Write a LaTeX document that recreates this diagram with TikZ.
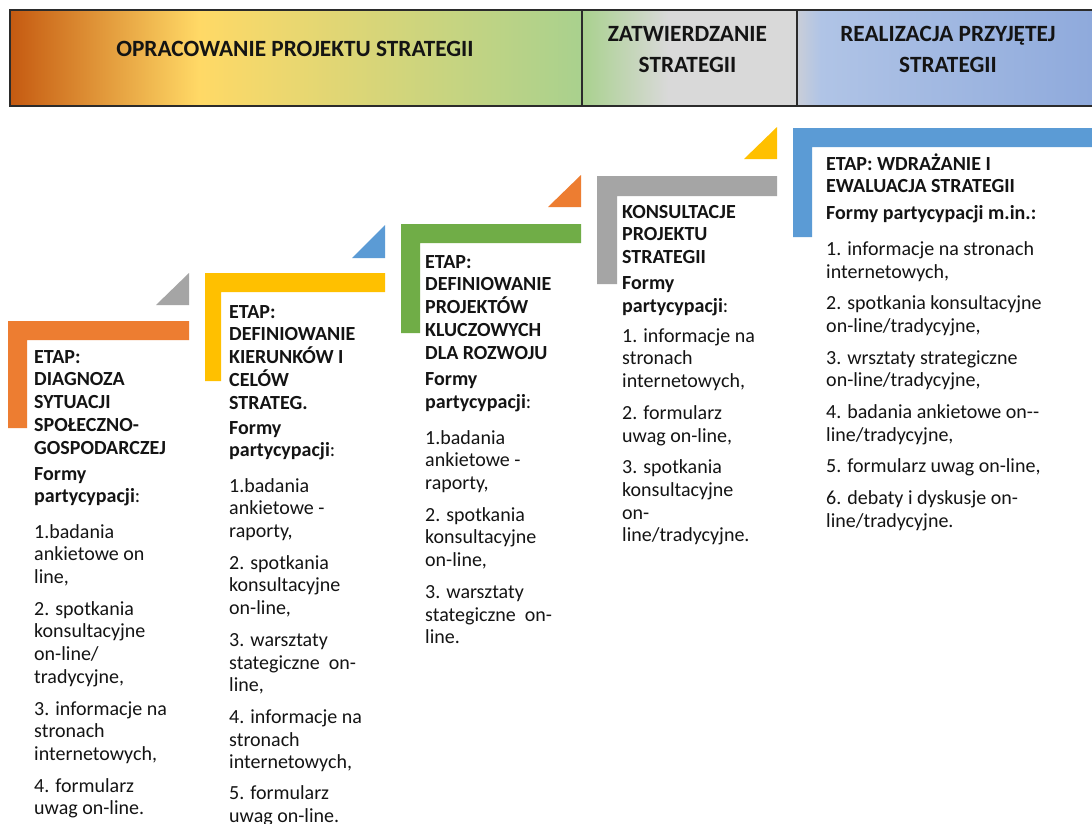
\documentclass[tikz,border=0pt]{standalone}
\usepackage{fontspec}
\setmainfont{Carlito}
\definecolor{cA0}{HTML}{C55A11}
\definecolor{cA1}{HTML}{FFD966}
\definecolor{cA2}{HTML}{A9D18E}
\definecolor{cB1}{HTML}{D9D9D9}
\definecolor{cC0}{HTML}{C9CED8}
\definecolor{cC1}{HTML}{B0C4E6}
\definecolor{cC2}{HTML}{8FAADC}
\definecolor{stOrange}{HTML}{ED7D31}
\definecolor{stYellow}{HTML}{FFC000}
\definecolor{stGreen}{HTML}{70AD47}
\definecolor{stGray}{HTML}{A5A5A5}
\definecolor{stBlue}{HTML}{5B9BD5}
\definecolor{txt}{HTML}{141414}
\definecolor{rule}{HTML}{2B2B2B}
\pgfdeclarehorizontalshading{secA}{100bp}{color(0bp)=(cA0); color(25bp)=(cA0); color(41.5bp)=(cA1); color(75bp)=(cA2); color(100bp)=(cA2)}
\pgfdeclarehorizontalshading{secB}{100bp}{color(0bp)=(cA2); color(25bp)=(cA2); color(45bp)=(cB1); color(75bp)=(cB1); color(100bp)=(cB1)}
\pgfdeclarehorizontalshading{secC}{100bp}{color(0bp)=(cC0); color(25bp)=(cC0); color(29bp)=(cC1); color(75bp)=(cC2); color(100bp)=(cC2)}
\begin{document}
\begin{tikzpicture}[x=1pt,y=-1pt,
  body/.style={anchor=north west, inner sep=0pt, align=left, text=txt,
    font=\fontsize{20}{22.7}\selectfont},
  hdr/.style={anchor=base, inner sep=0pt, text=txt,
    font=\fontsize{23.3}{26}\selectfont\bfseries},
  frame/.style={draw=rule, line width=1.3pt}]
\useasboundingbox (0,0) rectangle (1092,823);
\fill[white] (0,0) rectangle (1092,823);
% header band
\shade[shading=secA] (10,10) rectangle (582,106);
\shade[shading=secB] (582,10) rectangle (797,106);
\shade[shading=secC] (797,10) rectangle (1092,106);
\draw[frame] (1092,10) -- (10,10) -- (10,106) -- (1092,106);
\draw[frame] (582,10) -- (582,106);
\draw[frame] (797,10) -- (797,106);
\node[hdr] (h1) at (295,56.7) {OPRACOWANIE PROJEKTU STRATEGII};
\node[hdr] (h2a) at (687.5,41) {ZATWIERDZANIE};
\node[hdr] (h2b) at (687.5,72.7) {STRATEGII};
\node[hdr] (h3a) at (948,41) {REALIZACJA PRZYJĘTEJ};
\node[hdr] (h3b) at (948,72.7) {STRATEGII};
% steps
\fill[stOrange] (8,321) -- (189,321) -- (189,340) -- (27,340) -- (27,428) -- (8,428) -- cycle;
\fill[stYellow] (205,273) -- (385,273) -- (385,292) -- (221,292) -- (221,381) -- (205,381) -- cycle;
\fill[stGreen] (401,224) -- (581,224) -- (581,243) -- (420,243) -- (420,333) -- (401,333) -- cycle;
\fill[stGray] (597,176) -- (777,176) -- (777,196) -- (617,196) -- (617,284) -- (597,284) -- cycle;
\fill[stBlue] (793,128) -- (1092,128) -- (1092,147) -- (812,147) -- (812,237) -- (793,237) -- cycle;
% triangles
\fill[stGray] (189,273) -- (189,305) -- (156,305) -- cycle;
\fill[stBlue] (385,225) -- (385,258) -- (352,258) -- cycle;
\fill[stOrange] (581,175) -- (581,207) -- (548,207) -- cycle;
\fill[stYellow] (777,127) -- (777,159) -- (744,159) -- cycle;
% texts
\node[body] (c1) at (34,346) {\rule{0pt}{17pt}\textbf{ETAP:}\\ \textbf{DIAGNOZA}\\ \textbf{SYTUACJI}\\ \textbf{SPOŁECZNO-}\\ \textbf{GOSPODARCZEJ}\\[3.5pt]
 \textbf{Formy}\\ \textbf{partycypacji}:\\[12.5pt]
 1.badania\\ ankietowe on\\ line,\\[9pt]
 2. spotkania\\ konsultacyjne\\ on-line/\\ tradycyjne,\\[9pt]
 3. informacje na\\ stronach\\ internetowych,\\[9pt]
 4. formularz\\ uwag on-line.};
\node[body] (c2) at (229,301) {\rule{0pt}{17pt}\textbf{ETAP:}\\ \textbf{DEFINIOWANIE}\\ \textbf{KIERUNKÓW I}\\ \textbf{CELÓW}\\ \textbf{STRATEG.}\\[2.5pt]
 \textbf{Formy}\\ \textbf{partycypacji}:\\[12.5pt]
 1.badania\\ ankietowe -\\ raporty,\\[9pt]
 2. spotkania\\ konsultacyjne\\ on-line,\\[9pt]
 3. warsztaty\\ stategiczne\ \ on-\\ line,\\[9pt]
 4. informacje na\\ stronach\\ internetowych,\\[8pt]
 5. formularz\\ uwag on-line.};
\node[body] (c3) at (425,251) {\rule{0pt}{17pt}\textbf{ETAP:}\\ \textbf{DEFINIOWANIE}\\ \textbf{PROJEKTÓW}\\ \textbf{KLUCZOWYCH}\\ \textbf{DLA ROZWOJU}\\[4pt]
 \textbf{Formy}\\ \textbf{partycypacji}:\\[13pt]
 1.badania\\ ankietowe -\\ raporty,\\[9pt]
 2. spotkania\\ konsultacyjne\\ on-line,\\[9pt]
 3. warsztaty\\ stategiczne\ \ on-\\ line.};
\node[body] (c4) at (622,201) {\rule{0pt}{17pt}\textbf{KONSULTACJE}\\ \textbf{PROJEKTU}\\ \textbf{STRATEGII}\\[3.5pt]
 \textbf{Formy}\\ \textbf{partycypacji}:\\[7pt]
 1. informacje na\\ stronach\\ internetowych,\\[9pt]
 2. formularz\\ uwag on-line,\\[9pt]
 3. spotkania\\ konsultacyjne\\ on-\\ line/tradycyjne.};
\node[body] (c5) at (826,153) {\rule{0pt}{17pt}\textbf{ETAP: WDRAŻANIE I}\\ \textbf{EWALUACJA STRATEGII}\\[3.5pt]
 \textbf{Formy partycypacji m.in.:}\\[13.5pt]
 1. informacje na stronach\\ internetowych,\\[9pt]
 2. spotkania konsultacyjne\\ on-line/tradycyjne,\\[9pt]
 3. wrsztaty strategiczne\\ on-line/tradycyjne,\\[9pt]
 4. badania ankietowe on-{}-\\ line/tradycyjne,\\[9pt]
 5. formularz uwag on-line,\\[9pt]
 6. debaty i dyskusje on-\\ line/tradycyjne.};
\end{tikzpicture}
\end{document}
